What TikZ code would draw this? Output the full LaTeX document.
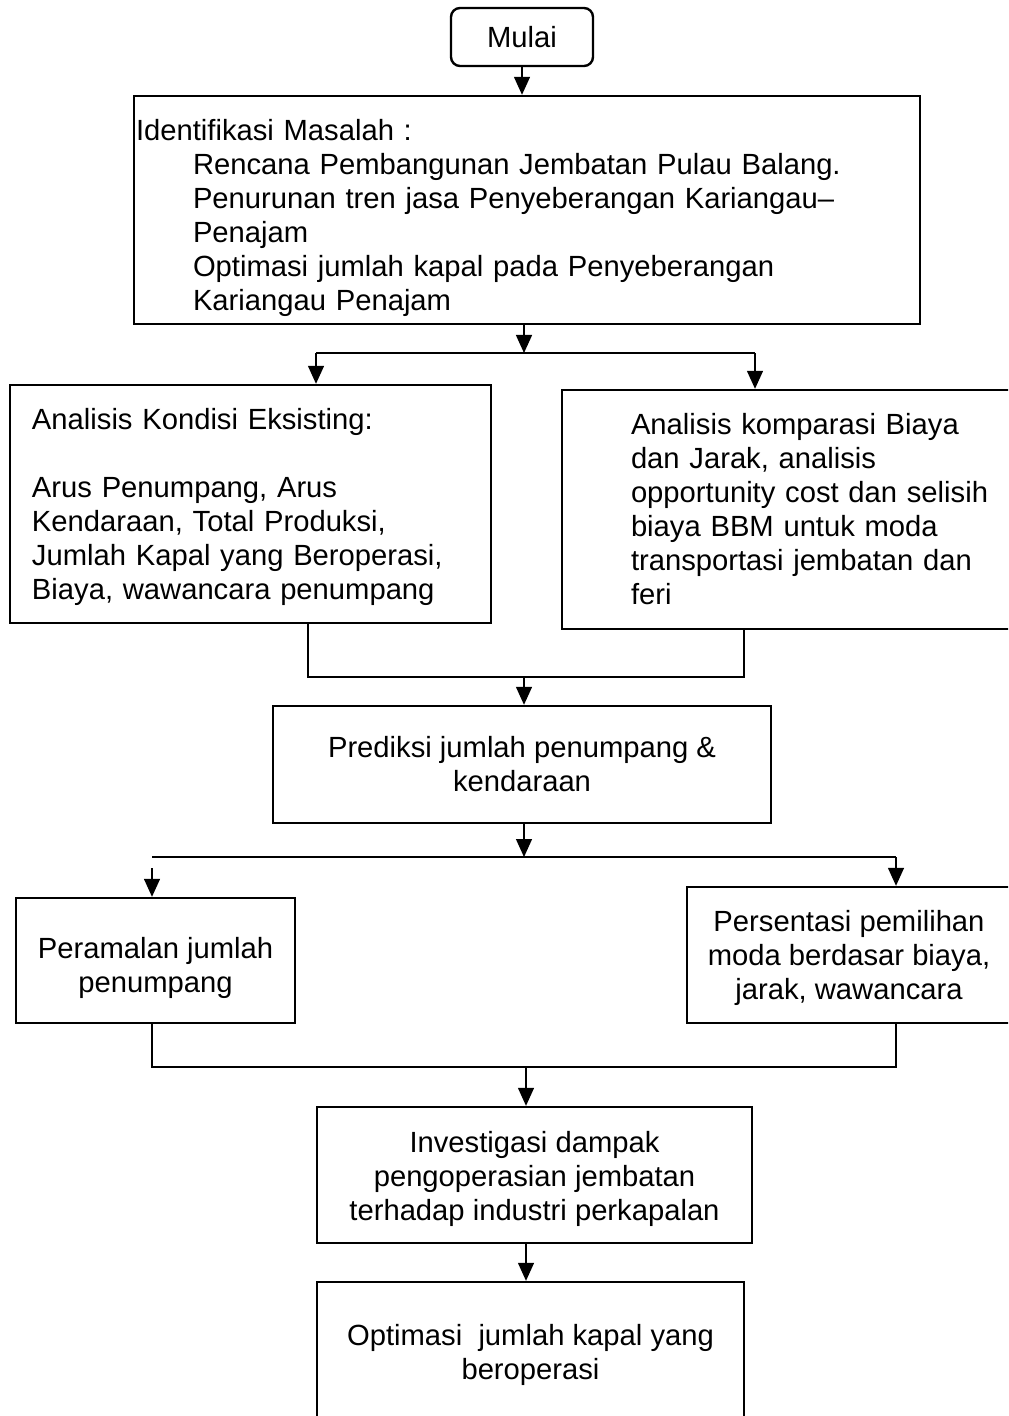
\documentclass[tikz,border=0pt]{standalone}
\usepackage{fontspec}
\setmainfont{Liberation Sans}
\usepackage{tikz}
\usetikzlibrary{arrows.meta}
\usepackage{xcolor}
\definecolor{ink}{HTML}{000000}
\newcommand{\topgap}[1]{\rule{0pt}{#1}}

\begin{document}
\begin{tikzpicture}[x=0.5pt,y=-0.5pt,
  box/.style={draw=ink, line width=1.2pt, inner sep=0pt, align=center, font=\fontsize{14.6}{17}\selectfont},
  startbox/.style={box, rounded corners=4.5pt, minimum width=71pt, minimum height=29pt},
  link/.style={draw=ink, line width=0.7pt},
  arr/.style={link, -{Triangle[length=9pt,width=8pt]}}]
\useasboundingbox (0,0) rectangle (1008,1416);
\clip (0,0) rectangle (1008,1416);

% boxes, placed at pixel positions (y runs down)
\node[startbox] (mulai) at (522,37) {Mulai};
\node[box, align=left, inner xsep=1pt, text width=391pt, minimum height=114pt] (ident) at (527,210) {\topgap{19pt}Identifikasi Masalah :\\
  \hspace*{28.5pt}Rencana Pembangunan Jembatan Pulau Balang.\\
  \hspace*{28.5pt}Penurunan tren jasa Penyeberangan Kariangau--\\
  \hspace*{28.5pt}Penajam\\
  \hspace*{28.5pt}Optimasi jumlah kapal pada Penyeberangan\\
  \hspace*{28.5pt}Kariangau Penajam};
\node[box, align=left, inner xsep=11pt, text width=218.5pt, minimum height=119pt] (kondisi) at (250.5,504) {\topgap{14pt}Analisis Kondisi Eksisting:\\[17pt]
  Arus Penumpang, Arus\\Kendaraan, Total Produksi,\\Jumlah Kapal yang Beroperasi,\\Biaya, wawancara penumpang};
\node[box, align=left, inner xsep=34.5pt, text width=180pt, minimum height=119.5pt] (komparasi) at (811,509.5) {Analisis komparasi Biaya\\dan Jarak, analisis\\opportunity cost dan selisih\\biaya BBM untuk moda\\transportasi jembatan dan\\feri};
\node[box, minimum width=249pt, minimum height=58.5pt] (prediksi) at (522,764.5) {Prediksi jumlah penumpang \&\\kendaraan};
\node[box, minimum width=139.5pt, minimum height=62.5pt] (peramalan) at (155.5,960.5) {\topgap{18pt}Peramalan jumlah\\penumpang};
\node[box, minimum width=162pt, minimum height=68pt] (persentasi) at (849,955) {\topgap{14pt}Persentasi pemilihan\\moda berdasar biaya,\\jarak, wawancara};
\node[box, minimum width=217.5pt, minimum height=68pt] (invest) at (534.5,1175) {\topgap{15pt}Investigasi dampak\\pengoperasian jembatan\\terhadap industri perkapalan};
\node[box, minimum width=213.5pt, minimum height=73pt] (optimasi) at (530.5,1355) {Optimasi\ \ jumlah kapal yang\\beroperasi};

% junction points
\coordinate (splitA) at (524,353);
\coordinate (forkL) at (316,353);
\coordinate (forkR) at (755,353);
\coordinate (joinL) at (308,677);
\coordinate (joinR) at (744,677);
\coordinate (mergeA) at (524,677);
\coordinate (splitB) at (524,857);
\coordinate (splitL) at (152,857);
\coordinate (splitR) at (896,857);
\coordinate (mergeL) at (152,1067);
\coordinate (mergeR) at (896,1067);
\coordinate (mergeB) at (526,1067);

% connectors
\draw[arr] (mulai.south) -- (mulai.south |- ident.north);
\draw[arr] (ident.south -| splitA) -- (splitA);
\draw[link] (forkL) -- (forkR);
\draw[arr] (forkL) -- (forkL |- kondisi.north);
\draw[arr] (forkR) -- (forkR |- komparasi.north);
\draw[link] (joinL |- kondisi.south) -- (joinL) -- (joinR) -- (joinR |- komparasi.south);
\draw[arr] (mergeA) -- (mergeA |- prediksi.north);
\draw[arr] (prediksi.south -| splitB) -- (splitB);
\draw[link] (splitL) -- (splitR);
\draw[arr] ([yshift=-5.5pt]splitL) -- (splitL |- peramalan.north);
\draw[arr] (splitR) -- (splitR |- persentasi.north);
\draw[link] (mergeL |- peramalan.south) -- (mergeL) -- (mergeR) -- (mergeR |- persentasi.south);
\draw[arr] (mergeB) -- (mergeB |- invest.north);
\draw[arr] (invest.south -| mergeB) -- (mergeB |- optimasi.north);
\end{tikzpicture}
\end{document}
